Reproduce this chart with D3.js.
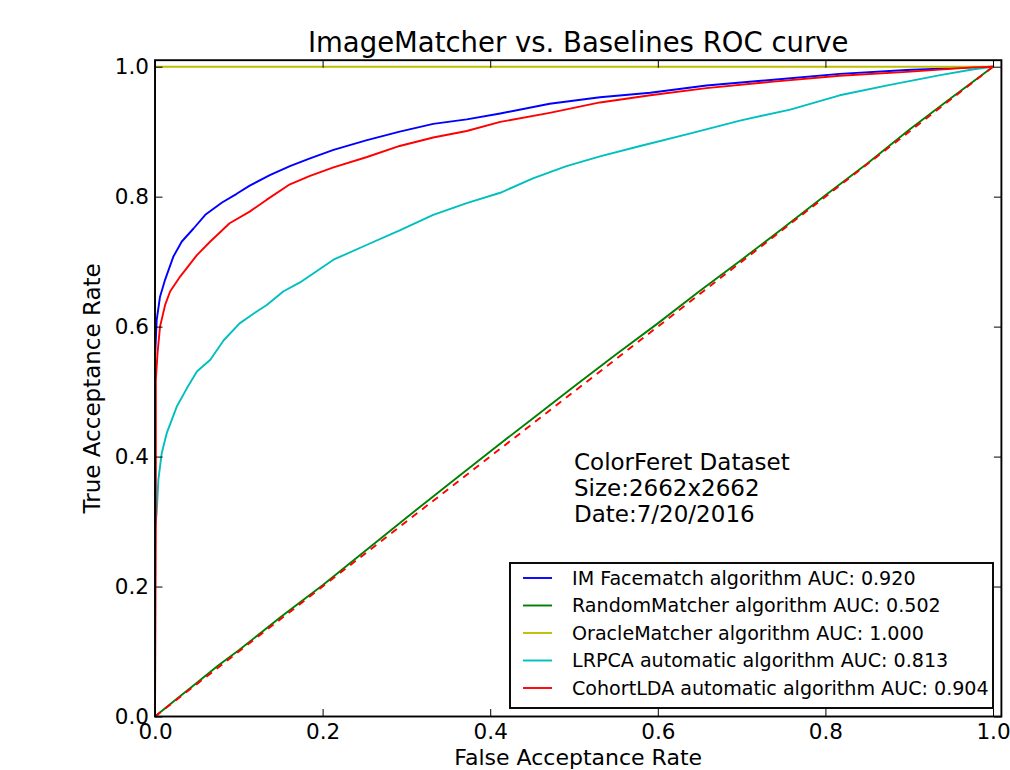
<!DOCTYPE html>
<html>
<head>
<meta charset="utf-8">
<script src="https://cdn.jsdelivr.net/npm/d3@7"></script>
<style>
  body { margin: 0; background: #fff; }
  svg { display: block; font-family: "DejaVu Sans", sans-serif; }
</style>
</head>
<body>
<svg id="roc"></svg>
<script>
// ROC data
const imFar = [0, 0, 0.002, 0.006, 0.012, 0.022, 0.032, 0.046, 0.06, 0.08, 0.097, 0.113, 0.137, 0.161, 0.185, 0.213, 0.253, 0.292, 0.332, 0.372, 0.412, 0.471, 0.531, 0.591, 0.658, 0.738, 0.817, 0.897, 0.976, 1];
const imTar = [0, 0.55, 0.61, 0.646, 0.672, 0.708, 0.731, 0.751, 0.772, 0.791, 0.804, 0.817, 0.833, 0.847, 0.859, 0.872, 0.887, 0.9, 0.912, 0.919, 0.928, 0.943, 0.953, 0.96, 0.971, 0.98, 0.989, 0.995, 0.999, 1];

const randomFar = [0, 0.025, 0.05, 0.075, 0.1, 0.15, 0.2, 0.25, 0.3, 0.35, 0.4, 0.45, 0.5, 0.55, 0.6, 0.65, 0.7, 0.75, 0.8, 0.85, 0.9, 0.95, 1];
const randomTar = [0, 0.026, 0.052, 0.078, 0.102, 0.153, 0.202, 0.254, 0.306, 0.357, 0.408, 0.458, 0.508, 0.557, 0.605, 0.655, 0.703, 0.752, 0.802, 0.851, 0.903, 0.952, 1];

const oracleFar = [0, 0, 1];
const oracleTar = [0, 1, 1];

const lrpcaFar = [0, 0, 0.002, 0.004, 0.008, 0.014, 0.026, 0.038, 0.05, 0.066, 0.082, 0.101, 0.121, 0.133, 0.153, 0.173, 0.213, 0.253, 0.292, 0.332, 0.372, 0.412, 0.451, 0.491, 0.531, 0.579, 0.638, 0.698, 0.758, 0.817, 0.877, 0.937, 0.977, 1];
const lrpcaTar = [0, 0.287, 0.313, 0.364, 0.405, 0.436, 0.477, 0.505, 0.531, 0.549, 0.579, 0.605, 0.623, 0.633, 0.654, 0.668, 0.703, 0.726, 0.748, 0.772, 0.79, 0.806, 0.828, 0.847, 0.862, 0.878, 0.897, 0.917, 0.934, 0.956, 0.972, 0.987, 0.996, 1];

const cohortFar = [0, 0.001, 0.001, 0.003, 0.006, 0.012, 0.018, 0.03, 0.05, 0.066, 0.089, 0.113, 0.133, 0.161, 0.185, 0.213, 0.253, 0.292, 0.332, 0.372, 0.412, 0.471, 0.531, 0.591, 0.658, 0.738, 0.817, 0.897, 0.976, 1];
const cohortTar = [0, 0.3, 0.518, 0.559, 0.6, 0.633, 0.654, 0.677, 0.71, 0.731, 0.759, 0.777, 0.795, 0.819, 0.832, 0.845, 0.861, 0.878, 0.891, 0.901, 0.915, 0.929, 0.945, 0.956, 0.967, 0.977, 0.986, 0.992, 0.999, 1];

const chanceFar = [0, 1];
const chanceTar = [0, 1];

const seriesNames = [
  'IM Facematch algorithm AUC: 0.920',
  'RandomMatcher algorithm AUC: 0.502',
  'OracleMatcher algorithm AUC: 1.000',
  'LRPCA automatic algorithm AUC: 0.813',
  'CohortLDA automatic algorithm AUC: 0.904'
];
const seriesColors = ['#0000ff', '#008000', '#bfbf00', '#00bfbf', '#ff0000'];

const tickValues = [0, 0.2, 0.4, 0.6, 0.8, 1.0];
const tickLabels = ['0.0', '0.2', '0.4', '0.6', '0.8', '1.0'];

const noteLines = ['ColorFeret Dataset', 'Size:2662x2662', 'Date:7/20/2016'];

document.addEventListener('DOMContentLoaded', function() {
  const width = 1010;
  const height = 770;
  const left = 155, right = 1001.4, top = 60.2, bottom = 716.5;

  const svg = d3.select('#roc')
    .attr('width', width)
    .attr('height', height);

  const x = d3.scaleLinear().domain([0, 1.01]).range([left, right]);
  const y = d3.scaleLinear().domain([0, 1.01]).range([bottom, top]);

  svg.append('clipPath').attr('id', 'plot-clip')
    .append('rect')
    .attr('x', left).attr('y', top)
    .attr('width', right - left).attr('height', bottom - top);

  const zip = (xs, ys) => xs.map((v, i) => [v, ys[i]]);
  const line = d3.line().x(d => x(d[0])).y(d => y(d[1]));

  const curves = [
    zip(imFar, imTar),
    zip(randomFar, randomTar),
    zip(oracleFar, oracleTar),
    zip(lrpcaFar, lrpcaTar),
    zip(cohortFar, cohortTar)
  ];

  const plot = svg.append('g').attr('clip-path', 'url(#plot-clip)');

  plot.selectAll('.curve')
    .data(curves)
    .enter()
    .append('path')
    .attr('class', 'curve')
    .attr('d', line)
    .attr('fill', 'none')
    .attr('stroke', (d, i) => seriesColors[i])
    .attr('stroke-width', 1.9)
    .attr('stroke-linejoin', 'round');

  // chance diagonal
  plot.append('path')
    .attr('d', line(zip(chanceFar, chanceTar)))
    .attr('fill', 'none')
    .attr('stroke', '#ff0000')
    .attr('stroke-width', 1.9)
    .attr('stroke-dasharray', '7,6');

  // axes with inward ticks
  const fmt = (d, i) => tickLabels[i];
  svg.append('g')
    .attr('transform', `translate(0,${bottom})`)
    .call(d3.axisBottom(x).tickValues(tickValues).tickFormat(fmt).tickSize(-7.5).tickPadding(7));
  svg.append('g')
    .attr('transform', `translate(${left},0)`)
    .call(d3.axisLeft(y).tickValues(tickValues).tickFormat(fmt).tickSize(-7.5).tickPadding(6));
  svg.append('g')
    .attr('transform', `translate(0,${top})`)
    .call(d3.axisTop(x).tickValues(tickValues).tickFormat('').tickSize(-7.5));
  svg.append('g')
    .attr('transform', `translate(${right},0)`)
    .call(d3.axisRight(y).tickValues(tickValues).tickFormat('').tickSize(-7.5));

  svg.selectAll('.domain').remove();
  svg.selectAll('.tick line').attr('stroke', '#000').attr('stroke-width', 1);
  svg.selectAll('.tick text')
    .attr('fill', '#000')
    .style('font-size', '21.5px')
    .style('font-family', '"DejaVu Sans", sans-serif');

  svg.append('rect')
    .attr('x', left).attr('y', top)
    .attr('width', right - left).attr('height', bottom - top)
    .attr('fill', 'none')
    .attr('stroke', '#000')
    .attr('stroke-width', 1.9);

  // title and labels
  svg.append('text')
    .attr('x', (left + right) / 2)
    .attr('y', 52)
    .attr('text-anchor', 'middle')
    .style('font-size', '27.5px')
    .text('ImageMatcher vs. Baselines ROC curve');

  svg.append('text')
    .attr('x', (left + right) / 2)
    .attr('y', 764.5)
    .attr('text-anchor', 'middle')
    .style('font-size', '22px')
    .text('False Acceptance Rate');

  svg.append('text')
    .attr('transform', `translate(100,${(top + bottom) / 2}) rotate(-90)`)
    .attr('text-anchor', 'middle')
    .style('font-size', '23px')
    .text('True Acceptance Rate');

  // dataset note
  svg.append('g').selectAll('text')
    .data(noteLines)
    .enter()
    .append('text')
    .attr('x', x(0.5))
    .attr('y', (d, i) => 470 + i * 26)
    .style('font-size', '23px')
    .text(d => d);

  // legend
  const legend = svg.append('g').attr('class', 'legend');
  legend.append('rect')
    .attr('x', 510).attr('y', 563)
    .attr('width', 483).attr('height', 145)
    .attr('fill', '#fff')
    .attr('stroke', '#000')
    .attr('stroke-width', 1.9);

  const items = legend.selectAll('.legend-item')
    .data(seriesNames)
    .enter()
    .append('g')
    .attr('class', 'legend-item')
    .attr('transform', (d, i) => `translate(0,${578 + i * 27.5})`);

  items.append('line')
    .attr('x1', 523).attr('x2', 552)
    .attr('stroke', (d, i) => seriesColors[i])
    .attr('stroke-width', 1.9);

  items.append('text')
    .attr('x', 572)
    .attr('dy', '0.36em')
    .style('font-size', '19.1px')
    .text(d => d);
});
</script>
</body>
</html>
